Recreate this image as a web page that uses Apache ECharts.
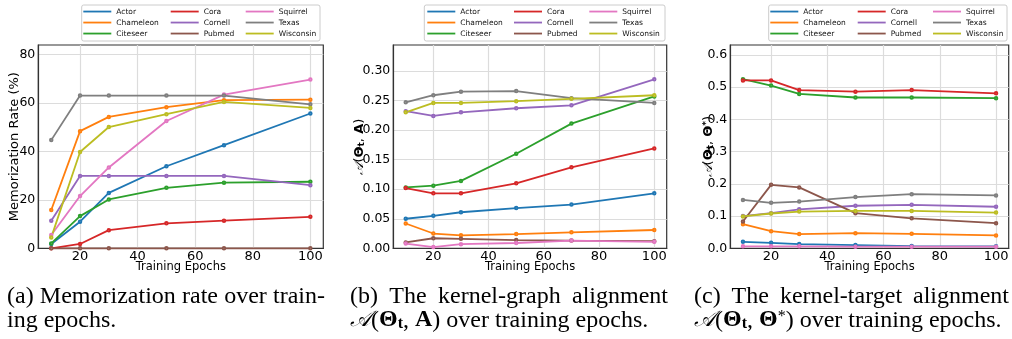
<!DOCTYPE html>
<html>
<head>
<meta charset="utf-8">
<script src="https://cdn.jsdelivr.net/npm/echarts@6/dist/echarts.min.js"></script>
<style>html,body{margin:0;padding:0;background:#fff;}#c{width:1012px;height:339px;}</style>
</head>
<body>
<div id="c"></div>
<script>
// ---- data ----
const epochs = [10, 20, 30, 50, 70, 100];
const datasets = ['Actor', 'Chameleon', 'Citeseer', 'Cora', 'Cornell', 'Pubmed', 'Squirrel', 'Texas', 'Wisconsin'];

// (a) Memorization rate (%)
const memActor     = [1.8, 11.0, 22.9, 33.9, 42.6, 55.7];
const memChameleon = [15.8, 48.4, 54.3, 58.3, 61.2, 61.4];
const memCiteseer  = [2.0, 13.3, 20.2, 25.0, 27.1, 27.5];
const memCora      = [0.0, 1.8, 7.5, 10.3, 11.4, 13.0];
const memCornell   = [11.4, 29.9, 29.9, 29.9, 29.9, 26.1];
const memPubmed    = [0.0, 0.0, 0.0, 0.0, 0.0, 0.0];
const memSquirrel  = [5.5, 21.6, 33.4, 52.6, 63.5, 69.7];
const memTexas     = [44.7, 63.1, 63.1, 63.1, 63.1, 59.5];
const memWisconsin = [4.5, 39.8, 50.1, 55.4, 60.5, 58.0];

// (b) kernel-graph alignment
const kgActor     = [0.050, 0.055, 0.061, 0.068, 0.074, 0.093];
const kgChameleon = [0.042, 0.025, 0.022, 0.024, 0.027, 0.031];
const kgCiteseer  = [0.103, 0.106, 0.114, 0.160, 0.211, 0.257];
const kgCora      = [0.102, 0.093, 0.093, 0.110, 0.137, 0.169];
const kgCornell   = [0.232, 0.224, 0.230, 0.237, 0.242, 0.286];
const kgPubmed    = [0.010, 0.017, 0.016, 0.014, 0.013, 0.012];
const kgSquirrel  = [0.008, 0.002, 0.007, 0.009, 0.013, 0.011];
const kgTexas     = [0.247, 0.259, 0.265, 0.266, 0.254, 0.246];
const kgWisconsin = [0.230, 0.246, 0.246, 0.249, 0.253, 0.259];

// (c) kernel-target alignment
const ktActor     = [0.020, 0.017, 0.013, 0.010, 0.007, 0.006];
const ktChameleon = [0.075, 0.053, 0.044, 0.047, 0.045, 0.040];
const ktCiteseer  = [0.525, 0.505, 0.479, 0.468, 0.468, 0.466];
const ktCora      = [0.521, 0.521, 0.491, 0.486, 0.491, 0.481];
const ktCornell   = [0.100, 0.109, 0.121, 0.132, 0.135, 0.129];
const ktPubmed    = [0.083, 0.197, 0.189, 0.109, 0.093, 0.078];
const ktSquirrel  = [0.006, 0.006, 0.006, 0.005, 0.005, 0.005];
const ktTexas     = [0.150, 0.141, 0.145, 0.159, 0.168, 0.164];
const ktWisconsin = [0.099, 0.108, 0.114, 0.116, 0.116, 0.111];

const xTicks = [20, 40, 60, 80, 100];
const yTicksA = [0, 20, 40, 60, 80];
const yTicksB = [0, 0.05, 0.10, 0.15, 0.20, 0.25, 0.30];
const yTicksC = [0, 0.1, 0.2, 0.3, 0.4, 0.5, 0.6];

const panelData = [
  [memActor, memChameleon, memCiteseer, memCora, memCornell, memPubmed, memSquirrel, memTexas, memWisconsin],
  [kgActor, kgChameleon, kgCiteseer, kgCora, kgCornell, kgPubmed, kgSquirrel, kgTexas, kgWisconsin],
  [ktActor, ktChameleon, ktCiteseer, ktCora, ktCornell, ktPubmed, ktSquirrel, ktTexas, ktWisconsin]
];

// ---- styles / layout ----
const palette = ['#1f77b4', '#ff7f0e', '#2ca02c', '#d62728', '#9467bd', '#8c564b', '#e377c2', '#7f7f7f', '#bcbd22'];
const grids = [
  {left: 38.3, top: 45, width: 285, height: 203.3},
  {left: 393.3, top: 45, width: 273.4, height: 203.3},
  {left: 730.3, top: 45, width: 278.4, height: 203.3}
];
const yCfg = [
  {max: 84, interval: 20, dec: 0, ticks: yTicksA},
  {max: 0.344, interval: 0.05, dec: 2, ticks: yTicksB},
  {max: 0.631, interval: 0.1, dec: 1, ticks: yTicksC}
];
const legendCols = [[83.3, 170.7, 245.7], [427.3, 514, 589.3], [770.3, 857.7, 933]];
const legendBoxes = [[81.7, 5, 238.3, 36], [424.3, 5, 240.7, 36], [768.7, 5, 238.3, 36]];
const yNameGap = [17, 27, 15];

const sans = 'DejaVu Sans';
const serif = 'Liberation Serif';
const capSize = 24;

const xAxis = grids.map((g, i) => ({
  type: 'value', gridIndex: i, min: 5.5, max: 104.5, splitNumber: 5,
  name: 'Training Epochs', nameLocation: 'middle', nameGap: 12.5, nameMoveOverlap: false,
  nameTextStyle: {fontFamily: sans, fontSize: 11.5, color: '#000'},
  axisLine: {show: true, lineStyle: {color: '#333', width: 1.2}},
  axisTick: {show: false},
  axisLabel: {fontFamily: sans, fontSize: 13, color: '#000', margin: 2, showMinLabel: false, showMaxLabel: false,
    formatter: v => xTicks.includes(v) ? String(v) : ''},
  splitLine: {show: true, showMinLine: false, showMaxLine: false, lineStyle: {color: '#dcdcdc', width: 1.2}}
}));

const yAxis = grids.map((g, i) => ({
  type: 'value', gridIndex: i, min: 0, max: yCfg[i].max, interval: yCfg[i].interval,
  nameLocation: 'middle', nameGap: yNameGap[i], nameRotate: 90, nameMoveOverlap: false,
  axisLine: {show: true, lineStyle: {color: '#333', width: 1.2}},
  axisTick: {show: false},
  axisLabel: {fontFamily: sans, fontSize: 12.5, color: '#000', margin: 3, showMaxLabel: false,
    formatter: v => v.toFixed(yCfg[i].dec)},
  splitLine: {show: true, showMinLine: false, showMaxLine: false, lineStyle: {color: '#dcdcdc', width: 1.2}}
}));
yAxis[0].name = 'Memorization Rate (%)';
yAxis[0].nameTextStyle = {fontFamily: sans, fontSize: 13, color: '#000'};
const mathRich = {
  s: {fontFamily: 'DejaVu Serif', fontStyle: 'italic', fontSize: 13, color: '#000'},
  n: {fontFamily: sans, fontSize: 13, color: '#000'},
  b: {fontFamily: sans, fontWeight: 'bold', fontSize: 13, color: '#000'},
  sub: {fontFamily: sans, fontWeight: 'bold', fontSize: 9, color: '#000', verticalAlign: 'bottom'},
  sup: {fontFamily: sans, fontWeight: 'bold', fontSize: 9, color: '#000', verticalAlign: 'top'}
};
yAxis[1].name = '{s|𝒜}{n|(}{b|Θ}{sub|t}{n|, }{b|A}{n|)}';
yAxis[1].nameTextStyle = {rich: mathRich};
yAxis[2].name = '{s|𝒜}{n|(}{b|Θ}{sub|t}{n|, }{b|Θ}{sup|*}{n|)}';
yAxis[2].nameTextStyle = {rich: mathRich};

const series = [];
panelData.forEach((arrs, p) => {
  arrs.forEach((arr, i) => {
    series.push({
      type: 'line', name: datasets[i], xAxisIndex: p, yAxisIndex: p,
      data: epochs.map((e, j) => [e, arr[j]]),
      color: palette[i],
      lineStyle: {width: 1.8, color: palette[i]},
      itemStyle: {color: palette[i], borderWidth: 0.6},
      symbol: 'emptyCircle', symbolSize: 2.5, showSymbol: true,
      clip: false, animation: false
    });
  });
});

const legend = [];
legendCols.forEach((cols, p) => {
  cols.forEach((x, c) => {
    legend.push({
      orient: 'vertical', left: x, top: 7.3, padding: 0, itemGap: 2.5,
      itemWidth: 28, itemHeight: 1.8, icon: 'rect',
      data: datasets.slice(c * 3, c * 3 + 3),
      textStyle: {fontFamily: sans, fontSize: 7.5, lineHeight: 8.5, color: '#111', padding: [0, 0, 0, 0]},
      selectedMode: false
    });
  });
});

// caption helpers (justify first lines to column width)
const mctx = document.createElement('canvas').getContext('2d');
mctx.font = capSize + 'px "' + serif + '"';
function justified(words, target) {
  const w = words.reduce((s, t) => s + mctx.measureText(t).width, 0);
  const gap = Math.max(4, (target - w) / (words.length - 1));
  return {text: words.map(t => '{n|' + t + '}').join('{g| }'), gap};
}
const baseRich = {
  s: {fontFamily: 'DejaVu Serif', fontStyle: 'italic', fontSize: 22, color: '#000'},
  n: {fontFamily: serif, fontSize: capSize, color: '#000'},
  b: {fontFamily: serif, fontWeight: 'bold', fontSize: capSize, color: '#000'},
  sub: {fontFamily: serif, fontWeight: 'bold', fontSize: 16, color: '#000', verticalAlign: 'bottom'},
  sup: {fontFamily: serif, fontSize: 16, color: '#000', verticalAlign: 'top'}
};
const capLines = [
  {words: ['(a)', 'Memorization', 'rate', 'over', 'train-'], left: 7, top: 285, target: 318},
  {raw: '{n|ing epochs.}', left: 7, top: 308.5},
  {words: ['(b)', 'The', 'kernel-graph', 'alignment'], left: 350, top: 285, target: 318},
  {raw: '{s|𝒜}{n|(}{b|Θ}{sub|t}{n|, }{b|A}{n|) over training epochs.}', left: 350, top: 308.5},
  {words: ['(c)', 'The', 'kernel-target', 'alignment'], left: 694, top: 285, target: 315},
  {raw: '{s|𝒜}{n|(}{b|Θ}{sub|t}{n|, }{b|Θ}{sup|*}{n|) over training epochs.}', left: 694, top: 308.5}
];
const title = capLines.map(c => {
  let text = c.raw, rich = Object.assign({}, baseRich);
  if (c.words) {
    const j = justified(c.words, c.target);
    text = j.text;
    rich.g = {fontFamily: serif, fontSize: capSize, width: j.gap, color: '#000'};
  }
  return {
    text, left: c.left, top: c.top, padding: 0,
    textStyle: {fontFamily: serif, fontSize: capSize, fontWeight: 'normal', color: '#000', lineHeight: 23.5, rich}
  };
});

const graphic = legendBoxes.map(b => ({
  type: 'rect', silent: true, z: -1,
  shape: {x: b[0], y: b[1], width: b[2], height: b[3], r: 2},
  style: {fill: '#fff', stroke: '#cccccc', lineWidth: 1}
}));

const chart = echarts.init(document.getElementById('c'), null, {renderer: 'canvas'});
chart.setOption({
  animation: false,
  backgroundColor: '#fff',
  title, legend, graphic,
  grid: grids.map(g => Object.assign({show: true, borderColor: '#333', borderWidth: 1.2, backgroundColor: 'transparent'}, g)),
  xAxis, yAxis, series
});
</script>
</body>
</html>
